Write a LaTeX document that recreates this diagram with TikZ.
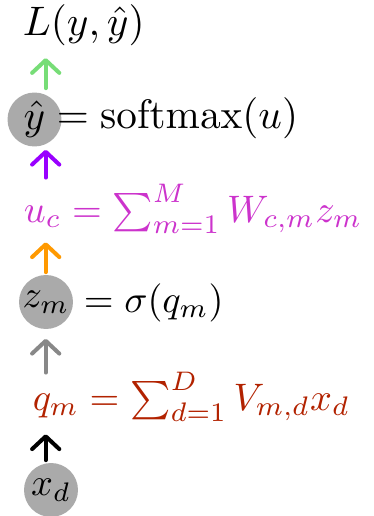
\documentclass[tikz,border=0pt]{standalone}
\usepackage{amsmath,amssymb}
\usetikzlibrary{arrows.meta,calc}

\definecolor{lossgreen}{RGB}{119,221,119}
\definecolor{softpurple}{RGB}{153,0,255}
\definecolor{outmagenta}{RGB}{204,51,204}
\definecolor{hidorange}{RGB}{255,153,0}
\definecolor{actgray}{RGB}{136,136,136}
\definecolor{inred}{RGB}{178,34,0}
\definecolor{unitgray}{RGB}{170,170,170}

\newcommand{\smalleq}[1]{\scalebox{0.93}{$#1$}}

\tikzset{
  unit/.style={circle, fill=unitgray, minimum size=13.1pt, inner sep=0pt},
  eqn/.style={anchor=base west, inner sep=0pt},
  uparrow/.style={-{Straight Barb[length=3.1pt,width=6.6pt,round]}, line width=0.97pt, line cap=round},
}

\begin{document}
\begin{tikzpicture}[x=0.2427pt, y=-0.2427pt]
    \useasboundingbox (0,0) rectangle (374,516);
    \coordinate (spine) at (45.7,0);
    % rows, top to bottom
    \node[eqn] (loss) at (22,35) {$L(y,\hat{y})$};
    \node[unit] (yhat) at (34.5,119.5) {$\hat{y}$};
    \node[eqn] (softmax) at (56,128) {$=\mathrm{softmax}(u)$};
    \node[eqn, text=outmagenta] (urow) at (23,222) {\smalleq{u_c = \sum_{m=1}^{M} W_{c,m} z_m}};
    \node[unit] (zm) at (46,302) {\smalleq{z_m}};
    \node[eqn] (sigma) at (83,312) {\smalleq{=\sigma(q_m)}};
    \node[eqn, text=inred] (qrow) at (32,410) {\smalleq{q_m = \sum_{d=1}^{D} V_{m,d} x_d}};
    \node[unit] (xd) at (51,490) {\smalleq{x_d}};
    % arrows up the spine
    \draw[uparrow, lossgreen] ($(yhat.north -| spine)+(0,-3.5)$) -- ($(loss.south -| spine)+(0,12)$);
    \draw[uparrow, softpurple] ($(urow.north -| spine)+(0,-6)$) -- ($(yhat.south -| spine)+(0,2.5)$);
    \draw[uparrow, hidorange] ($(zm.north -| spine)+(0,-2)$) -- ($(urow.south -| spine)+(0,8)$);
    \draw[uparrow, actgray] ($(qrow.north -| spine)+(0,1)$) -- ($(zm.south -| spine)+(0,9)$);
    \draw[uparrow, black] ($(xd.north -| spine)+(0,-2)$) -- ($(qrow.south -| spine)+(0,12)$);
\end{tikzpicture}
\end{document}
